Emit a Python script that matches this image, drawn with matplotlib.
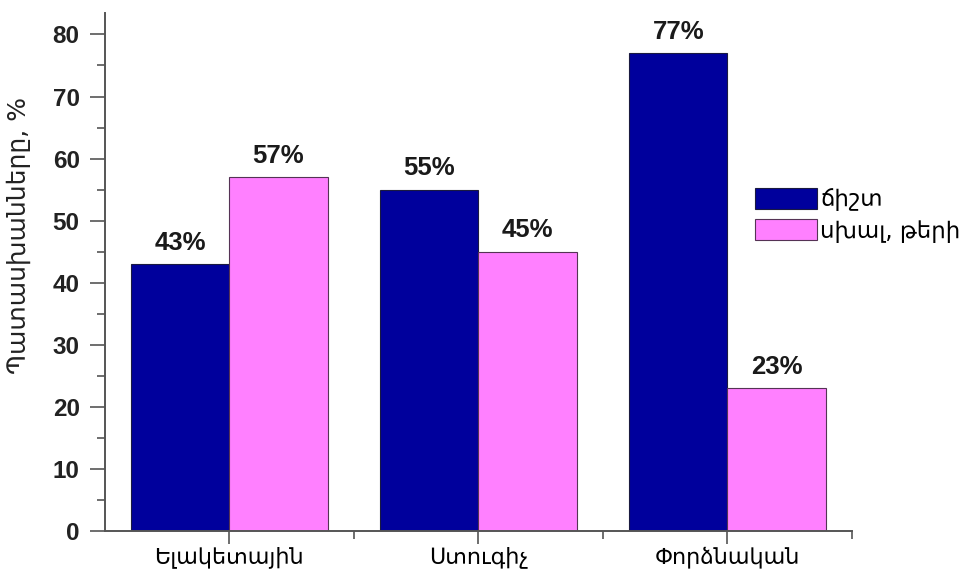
import matplotlib
matplotlib.use("Agg")
import matplotlib.pyplot as plt
import numpy as np
from matplotlib.ticker import MultipleLocator, FixedLocator

plt.rcParams['font.family'] = ['Liberation Sans', 'DejaVu Sans']

categories = ["Ելակետային", "Ստուգիչ", "Փորձնական"]
correct = [43, 55, 77]
wrong = [57, 45, 23]
series_names = ["ճիշտ", "սխալ, թերի"]
ylabel = "Պատասխանները, %"

fig = plt.figure(figsize=(9.6, 5.72), dpi=100)
ax = fig.add_axes([0.109, 0.0717, 0.7785, 0.905])

x = np.arange(len(categories))
w = 0.395
b1 = ax.bar(x - w / 2, correct, w, color="#00009C", edgecolor="#1a1a40", linewidth=0.8, label=series_names[0])
b2 = ax.bar(x + w / 2, wrong, w, color="#FF80FF", edgecolor="#553355", linewidth=0.8, label=series_names[1])

for bars, vals in ((b1, correct), (b2, wrong)):
    for r, v in zip(bars, vals):
        ax.text(r.get_x() + r.get_width() / 2, v + 1.5, f"{v}%", ha="center", va="bottom",
                fontsize=18.5, fontweight="bold", color="#1a1a1a")

ax.set_xlim(-0.5, 2.5)
ax.set_ylim(0, 83.4)
ax.yaxis.set_major_locator(MultipleLocator(10))
ax.yaxis.set_minor_locator(MultipleLocator(5))
ax.set_xticks(x)
ax.set_xticklabels(categories, fontsize=16, family=['DejaVu Sans'])
ax.xaxis.set_minor_locator(FixedLocator([0.5, 1.5, 2.5]))

for lab in ax.get_yticklabels():
    lab.set_fontweight("bold")
    lab.set_fontsize(17.5)
    lab.set_color("#222222")

ax.tick_params(axis="y", which="major", length=11, width=1.2, color="#555555", pad=7)
ax.tick_params(axis="y", which="minor", length=6, width=1.2, color="#555555")
ax.tick_params(axis="x", which="major", length=9, width=1.2, color="#555555", pad=2)
ax.tick_params(axis="x", which="minor", length=6, width=1.2, color="#555555")

for s in ("top", "right"):
    ax.spines[s].set_visible(False)
for s in ("left", "bottom"):
    ax.spines[s].set_color("#555555")
    ax.spines[s].set_linewidth(1.4)

ax.set_ylabel(ylabel, fontsize=18, family=['DejaVu Sans'], color="#222222")
ax.yaxis.set_label_coords(-0.098, 0.57)

leg = fig.legend(handles=[b1, b2], labels=series_names, loc="upper left",
                 bbox_to_anchor=(0.765, 0.708), frameon=False,
                 handlelength=2.7, handleheight=1.05, handletextpad=0.15, labelspacing=0.35,
                 prop={'family': ['DejaVu Sans'], 'size': 16.5})

fig.savefig("out.png", dpi=100, facecolor="white")
